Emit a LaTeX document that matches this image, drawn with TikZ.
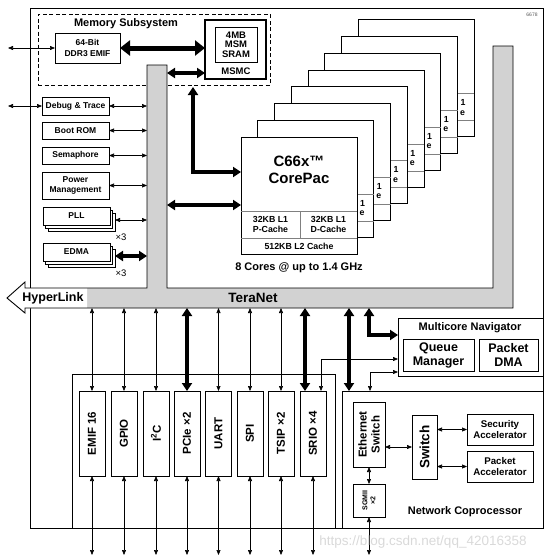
\documentclass[tikz,border=0pt]{standalone}
\usepackage{fontspec}
\setmainfont{Liberation Sans}
\usetikzlibrary{arrows.meta}
\definecolor{tgray}{RGB}{210,210,210}
\begin{document}
\begin{tikzpicture}[x=1pt,y=-1pt,
  every node/.style={inner sep=0pt, outer sep=0pt},
  bx/.style={draw, line width=0.9pt, fill=white, align=center},
  f7/.style={font=\bfseries\fontsize{7}{8}\selectfont, align=center},
  fc/.style={font=\bfseries\fontsize{8.8}{10}\selectfont, align=center},
  fs/.style={font=\bfseries\fontsize{9.5}{9.5}\selectfont, align=center},
  f8/.style={font=\bfseries\fontsize{8.5}{10.5}\selectfont, align=center},
  f9/.style={font=\bfseries\fontsize{11}{12}\selectfont, align=center},
  f95/.style={font=\bfseries\fontsize{9.7}{11}\selectfont, align=center},
  f10/.style={font=\bfseries\fontsize{11.5}{13}\selectfont, align=center},
  f11/.style={font=\bfseries\fontsize{11.5}{13.5}\selectfont, align=center},
  f12/.style={font=\bfseries\fontsize{12.5}{14}\selectfont, align=center},
  f13/.style={font=\bfseries\fontsize{13.5}{15}\selectfont, align=center},
  f14/.style={font=\bfseries\fontsize{15}{17}\selectfont, align=center},
  tarr/.style={line width=0.6pt, arrows={Triangle[length=5pt,width=4pt]-Triangle[length=5pt,width=4pt]}},
  karr/.style={line width=3.2pt, line join=miter, arrows={Triangle[length=8pt,width=10pt]-Triangle[length=8pt,width=10pt]}},
  barr/.style={line width=5pt, arrows={Triangle[length=10pt,width=15pt]-Triangle[length=10pt,width=15pt]}}
]
\useasboundingbox (0,0) rectangle (554,560);
% chip
\node[draw, line width=1pt, minimum width=513pt, minimum height=520pt, anchor=north west] (chip) at (30,8) {};
\node[text=gray!70!black, font=\fontsize{5}{5}\selectfont] (id) at (532,15) {6678};
% memory subsystem
\node[draw, line width=0.9pt, dash pattern=on 4pt off 2.5pt, minimum width=232pt, minimum height=71pt, anchor=north west] (mem) at (38,14) {};
\node[f9] (memt) at (126,24) {Memory Subsystem};
\node[bx, minimum width=65pt, minimum height=30pt, f8] (emif) at (87.5,48) {64-Bit\\DDR3 EMIF};
\node[bx, line width=1.2pt, minimum width=61pt, minimum height=59pt] (msmc) at (235.5,49.5) {};
\node[bx, minimum width=42pt, minimum height=35pt, fs] (sram) at (236,44.5) {4MB\\MSM\\SRAM};
\node[fs] (msmct) at (236,71) {MSMC};
% left column
\node[bx, f8, minimum width=67pt, minimum height=18pt] (dbg) at (75.5,106) {Debug \& Trace};
\node[bx, f8, minimum width=67pt, minimum height=17pt] (boot) at (75.5,130.5) {Boot ROM};
\node[bx, f8, minimum width=67pt, minimum height=17pt] (sema) at (75.5,155.5) {Semaphore};
\node[bx, f8, minimum width=67pt, minimum height=27pt] (pwr) at (75.5,185.5) {Power\\Management};
\node[bx, minimum width=67pt, minimum height=18pt] (pll3) at (81.5,222) {};
\node[bx, minimum width=67pt, minimum height=18pt] (pll2) at (79,219) {};
\node[bx, f8, minimum width=67pt, minimum height=18pt] (pll) at (76.5,216) {PLL};
\node[font=\fontsize{9.5}{10}\selectfont] (pllx) at (121,237) {×3};
\node[bx, minimum width=67pt, minimum height=18pt] (edma3) at (81.5,258) {};
\node[bx, minimum width=67pt, minimum height=18pt] (edma2) at (79,255) {};
\node[bx, f8, minimum width=67pt, minimum height=18pt] (edma) at (76.5,252) {EDMA};
\node[font=\fontsize{9.5}{10}\selectfont] (edmax) at (121,273) {×3};
% cores (back copies: only the visible strip of the D-Cache text shows)
\foreach \k in {7,6,...,1}{
  \pgfmathsetmacro\dx{16.75*\k}
  \pgfmathsetmacro\xl{340.25+16.75*\k}
  \node[bx, minimum width=116pt, minimum height=117pt] (core\k) at (299+\dx,195.5-\dx) {};
  \draw[gray, line width=0.7pt] (241+\dx,211-\dx) -- ++(116,0);
  \draw[gray, line width=0.7pt] (241+\dx,238-\dx) -- ++(116,0);
  \node[fc] (dca\k) at (\xl+5.5,220-\dx) {1};
  \node[fc] (dcb\k) at (\xl+5,230-\dx) {e};
}
\node[bx, minimum width=116pt, minimum height=117pt] (core0) at (299,195.5) {};
\draw[gray, line width=0.7pt] (241,211) -- (357,211);
\draw[gray, line width=0.7pt] (241,238) -- (357,238);
\draw[gray, line width=0.7pt] (300,211) -- (300,238);
\node[f14] (coret) at (299,170) {C66x™\\CorePac};
\node[fc] (pc0) at (270.5,224.5) {32KB L1\\P-Cache};
\node[fc] (dc0) at (328.5,224.5) {32KB L1\\D-Cache};
\node[fc] (l20) at (299,246) {512KB L2 Cache};
\node[f9] (ncores) at (299,268) {8 Cores @ up to 1.4 GHz};
% TeraNet
\fill[tgray] (7,298) -- (25,282) -- (25,288) -- (147,288) -- (147,65) -- (167,65) -- (167,288) -- (493,288) -- (493,46) -- (513,46) -- (513,308) -- (25,308) -- (25,313) -- cycle;
\fill[white] (7,298) -- (25,282) -- (25,288) -- (87,288) -- (87,308) -- (25,308) -- (25,313) -- cycle;
\draw[line width=0.9pt, line join=miter] (7,298) -- (25,282) -- (25,288) -- (147,288) -- (147,65) -- (167,65) -- (167,288) -- (493,288) -- (493,46) -- (513,46) -- (513,308) -- (25,308) -- (25,313) -- cycle;
\node[f12] (hl) at (53,298) {HyperLink};
\node[f13] (tn) at (253,298) {TeraNet};
% top arrows
\coordinate (e1) at (8,48);
\coordinate (e2) at (8,106);
\draw[tarr] (e1) -- (emif.west);
\draw[tarr] (e2) -- (dbg.west);
\draw[barr] (emif.east) -- (emif.east -| msmc.west);
\coordinate (tm) at (167,73);
\draw[karr] (tm) -- (tm -| msmc.west);
\coordinate (mup) at (193,87);
\draw[karr] (mup) -- (193,172) -- (core0.west |- 0,172);
\coordinate (tc) at (167,205);
\draw[karr] (tc) -- (tc -| core0.west);
\foreach \n in {dbg,boot,sema,pwr}{
  \draw[tarr] (\n.east) -- (\n.east -| 147,0);
}
\coordinate (tp) at (147,220);
\draw[tarr] (tp -| pll3.east) -- (tp);
\coordinate (te) at (147,256);
\draw[karr] (te -| edma3.east) -- (te);
% peripherals
\node[draw, line width=0.8pt, minimum width=263pt, minimum height=154pt, anchor=north west] (pgrp) at (72,374) {};
\foreach \x/\n/\t in {92/emifs/EMIF 16, 124/gpio/GPIO, 156/iic/{I\textsuperscript{2}C}, 187/pcie/PCIe ×2, 218.5/uart/UART, 250/spi/SPI, 281/tsip/TSIP ×2, 313/srio/SRIO ×4}{
  \node[bx, minimum width=26pt, minimum height=85pt] (\n) at (\x,433.5) {};
  \node[f11, rotate=90] (\n-t) at (\n) {\t};
  \coordinate (\n-top) at (\x,308);
  \coordinate (\n-bot) at (\x,555);
  \draw[tarr] (\n.south) -- (\n-bot);
}
\foreach \n in {emifs,gpio,iic,uart,spi,tsip}{
  \draw[tarr] (\n-top) -- (\n.north);
}
\draw[karr] (pcie-top) -- (pcie.north);
\coordinate (srk) at (305,308);
\draw[karr] (srk) -- (srk |- srio.north);
% navigator
\node[draw, line width=0.8pt, minimum width=145pt, minimum height=58pt, anchor=north west] (nav) at (398,318) {};
\node[f9] (navt) at (470,328) {Multicore Navigator};
\node[bx, f12, minimum width=71pt, minimum height=32pt] (qm) at (438.5,355) {Queue\\Manager};
\node[bx, f12, minimum width=59pt, minimum height=32pt] (pdma) at (508.5,355) {Packet\\DMA};
% network coprocessor
\node[draw, line width=0.8pt, minimum width=201pt, minimum height=137pt, anchor=north west] (nc) at (342,391) {};
\node[bx, minimum width=32pt, minimum height=65pt] (eth) at (369,434.5) {};
\node[f10, rotate=90] (eth-t) at (eth) {Ethernet\\Switch};
\node[bx, minimum width=32pt, minimum height=33pt] (sgmii) at (369,500.5) {};
\node[f7, rotate=90] (sgmii-t) at (sgmii) {SGMII\\×2};
\node[bx, minimum width=25pt, minimum height=64pt] (sw) at (424.5,447) {};
\node[f13, rotate=90] (sw-t) at (sw) {Switch};
\node[bx, f95, minimum width=66pt, minimum height=31pt] (sec) at (500,429.5) {Security\\Accelerator};
\node[bx, f95, minimum width=66pt, minimum height=31pt] (pa) at (500,466.5) {Packet\\Accelerator};
\node[f9] (nct) at (465,512) {Network Coprocessor};
\draw[tarr] (eth.south) -- (sgmii.north);
\coordinate (sgb) at (369,555);
\draw[tarr] (sgmii.south) -- (sgb);
\draw[tarr] (eth.east |- sw.west) -- (sw.west);
\draw[tarr] (sw.east |- sec.west) -- (sec.west);
\draw[tarr] (sw.east |- pa.west) -- (pa.west);
% right connectors
\coordinate (ncd) at (349,308);
\draw[karr] (ncd) -- (ncd |- nc.north);
\coordinate (nvk) at (369,308);
\draw[karr] (nvk) |- ([yshift=12pt]nav.west);
\coordinate (srt) at (321,359);
\draw[tarr] (nav.west |- srt) -- (srt) -- (srt |- srio.north);
\coordinate (nck) at (370,372);
\draw[tarr] (nav.west |- nck) -- (nck) -- (nck |- nc.north);
% watermark
\node[text=gray!30, font=\fontsize{13.5}{14}\selectfont] (wm) at (423,542) {https://blog.csdn.net/qq\_42016358};
\end{tikzpicture}
\end{document}
